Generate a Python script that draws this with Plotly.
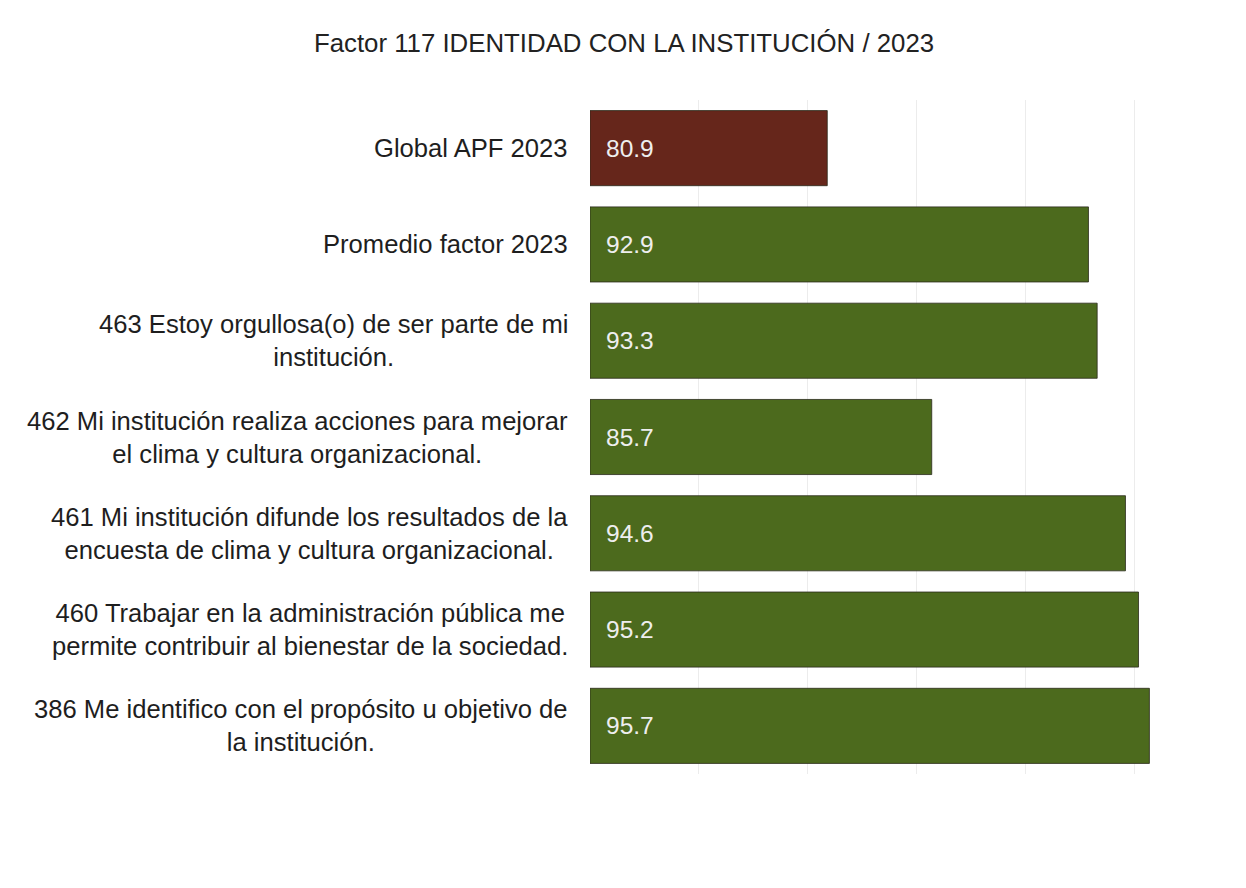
import plotly.graph_objects as go

# Survey items (top to bottom) and their scores
categories = [
    "Global APF 2023",
    "Promedio factor 2023",
    "463 Estoy orgullosa(o) de ser parte de mi<br>institución.",
    "462 Mi institución realiza acciones para mejorar<br>el clima y cultura organizacional.",
    "461 Mi institución difunde los resultados de la<br>encuesta de clima y cultura organizacional.",
    "460 Trabajar en la administración pública me<br>permite contribuir al bienestar de la sociedad.",
    "386 Me identifico con el propósito u objetivo de<br>la institución.",
]
values = [80.9, 92.9, 93.3, 85.7, 94.6, 95.2, 95.7]
bar_colors = ["#66261b", "#4c6a1d", "#4c6a1d", "#4c6a1d", "#4c6a1d", "#4c6a1d", "#4c6a1d"]

x_min, x_max = 70, 100
ids = list(range(len(categories)))
FONT = "Arial, Liberation Sans, sans-serif"

fig = go.Figure()
fig.add_trace(go.Bar(
    y=ids,
    x=[v - x_min for v in values],
    base=x_min,
    orientation="h",
    marker=dict(color=bar_colors, line=dict(color="#2a2a1a", width=0.8)),
    width=0.78,
    hoverinfo="skip",
))

annotations = []
# Value labels inside the bars, near their start
for i, v in zip(ids, values):
    annotations.append(dict(
        x=x_min, y=i, xref="x", yref="y", xanchor="left", yanchor="middle",
        xshift=14, text=f"{v:.1f}", showarrow=False,
        font=dict(family=FONT, size=24.5, color="#eeeeee"),
    ))
# Category labels, centered line by line
for i, c in zip(ids, categories):
    annotations.append(dict(
        x=0, y=i, xref="paper", yref="y", xanchor="right", yanchor="middle",
        xshift=-20, text=c, align="center", showarrow=False,
        font=dict(family=FONT, size=25.6, color="#1e1e1e"),
    ))

fig.update_layout(
    width=1246, height=888,
    margin=dict(l=590, r=3, t=100, b=114),
    paper_bgcolor="white", plot_bgcolor="white",
    showlegend=False,
    title=dict(
        text="Factor 117 IDENTIDAD CON LA INSTITUCIÓN / 2023",
        x=624 / 1246, xanchor="center", xref="container",
        y=1 - 43 / 888, yanchor="middle", yref="container",
        font=dict(family=FONT, size=25.8, color="#222222"),
    ),
    xaxis=dict(range=[x_min, x_max], dtick=5, showticklabels=False,
               showgrid=True, gridcolor="#ececec", gridwidth=1,
               zeroline=False, showline=False, ticks=""),
    yaxis=dict(range=[len(categories) - 0.5, -0.5], showticklabels=False,
               showgrid=False, zeroline=False, showline=False, ticks=""),
    annotations=annotations,
)

fig.write_html("out.html")
